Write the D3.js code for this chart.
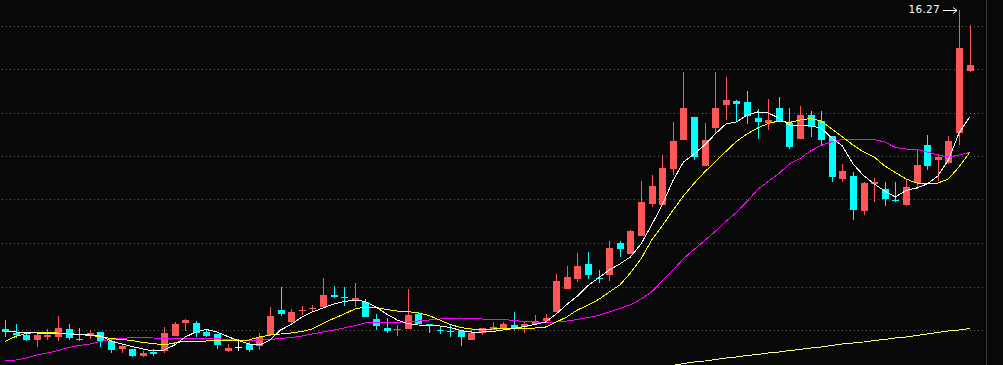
<!DOCTYPE html>
<html><head><meta charset="utf-8">
<script src="https://cdn.jsdelivr.net/npm/d3@7"></script>
<style>html,body{margin:0;padding:0;background:#080808;overflow:hidden}svg{display:block}</style>
</head><body>
<svg id="c" width="1003" height="365"></svg>
<script>
// ---- data (prices) ----
const opens  = [9.89,9.80,9.78,9.69,9.72,9.74,9.89,9.69,9.76,9.83,9.64,9.50,9.49,9.36,9.44,9.46,9.76,10.01,10.01,9.84,9.79,9.47,9.54,9.59,9.54,9.77,10.27,10.04,10.26,10.28,10.34,10.57,10.54,10.48,10.44,10.08,9.92,9.86,9.89,10.19,9.99,9.87,9.86,9.85,9.69,9.80,9.88,9.92,9.97,9.94,10.00,10.05,10.24,10.69,10.89,11.20,10.92,10.96,11.61,11.39,11.74,12.38,12.38,13.10,13.66,14.13,13.15,13.92,14.38,14.45,14.43,14.11,14.02,14.31,14.01,13.70,14.17,14.05,13.74,12.89,12.94,12.24,12.78,12.69,12.46,12.38,12.80,13.57,13.27,13.20,13.80,15.04];
const highs  = [10.07,9.99,9.84,9.84,9.88,10.14,9.99,9.90,9.87,9.83,9.67,9.59,9.49,9.45,9.48,9.93,10.04,10.08,10.05,9.88,9.79,9.60,9.70,9.63,9.80,10.34,10.72,10.29,10.35,10.37,10.90,10.75,10.74,10.80,10.50,10.20,10.12,9.97,10.69,10.22,9.99,9.94,9.97,9.85,9.90,9.90,10.04,10.04,10.22,10.04,10.17,10.19,10.99,11.15,11.41,11.43,11.07,11.65,11.65,11.87,12.85,12.97,13.37,14.03,15.03,14.13,14.01,15.03,14.93,14.47,14.65,14.29,14.49,14.53,14.31,14.34,14.25,14.25,13.74,13.20,13.04,12.82,12.90,12.82,12.82,12.88,13.47,13.77,13.39,13.74,16.27,15.97];
const lows   = [9.73,9.71,9.65,9.54,9.67,9.65,9.67,9.65,9.70,9.54,9.42,9.42,9.34,9.32,9.36,9.42,9.76,9.86,9.72,9.74,9.49,9.44,9.45,9.43,9.47,9.75,10.16,9.97,10.17,10.22,10.34,10.52,10.36,10.34,10.14,9.87,9.82,9.76,9.89,9.99,9.82,9.79,9.72,9.55,9.69,9.77,9.87,9.92,9.87,9.82,10.00,10.05,10.24,10.69,10.84,10.89,10.82,10.86,11.34,11.39,11.74,12.32,12.38,12.97,13.66,13.28,13.15,13.79,14.06,14.03,13.98,13.70,13.87,14.04,13.48,13.70,13.72,13.57,12.82,12.82,12.06,12.18,12.44,12.34,12.44,12.36,12.70,13.06,12.84,13.20,13.57,15.04];
const closes = [9.83,9.76,9.69,9.78,9.77,9.92,9.72,9.68,9.82,9.64,9.46,9.55,9.36,9.41,9.40,9.81,9.99,10.07,9.80,9.77,9.56,9.52,9.54,9.47,9.72,10.15,10.19,10.23,10.28,10.30,10.57,10.54,10.53,10.52,10.14,9.94,9.87,9.88,10.17,9.99,9.95,9.86,9.85,9.72,9.82,9.90,9.94,9.99,9.92,9.99,10.05,10.12,10.85,10.93,11.15,10.98,10.90,11.51,11.48,11.85,12.43,12.75,13.12,13.65,14.30,13.34,13.67,14.31,14.47,14.38,14.14,14.02,14.07,14.04,13.54,14.17,13.93,13.68,12.92,13.05,12.26,12.80,12.82,12.48,12.44,12.73,13.17,13.16,13.32,13.64,15.50,15.16];
const ma5  = [9.85,9.83,9.82,9.81,9.80,9.80,9.79,9.78,9.77,9.75,9.65,9.59,9.54,9.49,9.45,9.47,9.57,9.73,9.83,9.88,9.83,9.74,9.66,9.59,9.57,9.67,9.87,9.98,10.13,10.23,10.31,10.39,10.44,10.47,10.44,10.33,10.19,10.07,10.00,9.97,9.96,9.95,9.92,9.86,9.83,9.83,9.84,9.87,9.90,9.94,9.98,10.03,10.19,10.38,10.55,10.76,10.91,11.07,11.19,11.33,11.59,11.97,12.37,12.85,13.23,13.39,13.57,13.79,13.99,14.03,14.17,14.23,14.21,14.11,13.97,13.96,13.95,13.91,13.71,13.55,13.19,12.96,12.79,12.65,12.53,12.66,12.71,12.79,12.95,13.27,13.81,14.13];
const ma10 = [9.64,9.74,9.80,9.82,9.82,9.81,9.80,9.78,9.76,9.74,9.70,9.68,9.66,9.62,9.60,9.57,9.61,9.65,9.65,9.65,9.66,9.66,9.66,9.67,9.73,9.77,9.79,9.81,9.84,9.89,10.00,10.10,10.19,10.29,10.33,10.32,10.28,10.25,10.24,10.21,10.16,10.07,9.98,9.92,9.89,9.88,9.89,9.90,9.90,9.90,9.91,9.93,10.03,10.13,10.27,10.37,10.48,10.63,10.77,11.01,11.29,11.67,11.95,12.26,12.55,12.80,13.03,13.23,13.44,13.64,13.79,13.91,14.00,14.05,14.02,14.07,14.10,14.05,13.89,13.73,13.57,13.43,13.33,13.15,13.02,12.89,12.81,12.79,12.81,12.89,13.13,13.42];
const ma20 = [9.26,9.27,9.31,9.37,9.41,9.46,9.52,9.56,9.59,9.64,9.68,9.70,9.72,9.72,9.71,9.69,9.70,9.70,9.70,9.70,9.70,9.68,9.67,9.66,9.67,9.68,9.70,9.72,9.75,9.79,9.83,9.87,9.91,9.96,10.01,10.02,10.02,10.02,10.03,10.05,10.07,10.09,10.10,10.11,10.10,10.09,10.09,10.08,10.06,10.04,10.03,10.02,10.03,10.05,10.08,10.12,10.16,10.23,10.30,10.37,10.49,10.63,10.85,11.06,11.30,11.48,11.66,11.84,12.04,12.22,12.44,12.68,12.84,13.00,13.19,13.30,13.45,13.56,13.64,13.68,13.69,13.69,13.68,13.63,13.52,13.49,13.48,13.43,13.37,13.33,13.37,13.42];
const maLong = [null,null,null,null,null,null,null,null,null,null,null,null,null,null,null,null,null,null,null,null,null,null,null,null,null,null,null,null,null,null,null,null,null,null,null,null,null,null,null,null,null,null,null,null,null,null,null,null,null,null,null,null,null,null,null,null,null,null,null,null,null,null,null,
  9.16,9.20,9.23,9.25,9.28,9.31,9.33,9.36,9.38,9.41,9.43,9.46,9.48,9.51,9.53,9.56,9.59,9.61,9.63,9.66,9.68,9.71,9.73,9.76,9.79,9.82,9.85,9.87,9.90];
const gridPrices = [15.95,15.08,14.21,13.35,12.48,11.61,10.74,9.87];
const maxLabel = "16.27";

// ---- drawing ----
const W = 1003, H = 365;
const svg = d3.select("#c");
svg.append("rect").attr("width", W).attr("height", H).attr("fill", "#080808");

const n = opens.length;
const x = d3.scaleLinear().domain([0, n - 1]).range([5, 969.6]);
const y = d3.scaleLinear().domain([9.17, 16.47]).range([365, 0]);

const UP = "#ff5757", DOWN = "#00ffff";

// grid (sparse dots)
svg.append("g").selectAll("line").data(gridPrices).join("line")
  .attr("x1", 2).attr("x2", 986)
  .attr("y1", d => Math.round(y(d)) + 0.5).attr("y2", d => Math.round(y(d)) + 0.5)
  .attr("stroke", "#5e5e5e").attr("stroke-width", 1).attr("stroke-dasharray", "1,3")
  .attr("shape-rendering", "crispEdges");

// right border
svg.append("line").attr("x1", 986.5).attr("x2", 986.5).attr("y1", 0).attr("y2", H)
  .attr("stroke", "#3c3c3c").attr("shape-rendering", "crispEdges");

const idx = d3.range(n);
function col(i) {
  if (closes[i] > opens[i]) return UP;
  if (closes[i] < opens[i]) return DOWN;
  return "#ffffff";
}

// wicks
svg.append("g").selectAll("line").data(idx).join("line")
  .attr("x1", i => Math.round(x(i)) + 0.5).attr("x2", i => Math.round(x(i)) + 0.5)
  .attr("y1", i => Math.round(y(highs[i]))).attr("y2", i => Math.round(y(lows[i])))
  .attr("stroke", col).attr("stroke-width", 1).attr("shape-rendering", "crispEdges");

// bodies
svg.append("g").selectAll("rect").data(idx).join("rect")
  .attr("x", i => Math.round(x(i)) - 3)
  .attr("width", 7)
  .attr("y", i => Math.round(y(Math.max(opens[i], closes[i]))))
  .attr("height", i => Math.max(1, Math.round(Math.abs(y(opens[i]) - y(closes[i])))))
  .attr("fill", col).attr("shape-rendering", "crispEdges");

// moving averages
function drawLine(arr, color) {
  const line = d3.line().defined(d => d != null).x((d, i) => x(i)).y(d => y(d));
  svg.append("path").datum(arr).attr("d", line)
    .attr("fill", "none").attr("stroke", color).attr("stroke-width", 1)
    .attr("shape-rendering", "crispEdges");
}
drawLine(maLong, "#ffff80");
drawLine(ma20, "#ff00ff");
drawLine(ma10, "#ffff00");
drawLine(ma5, "#ffffff");

// max label
const hi = d3.maxIndex(highs);
const tipX = Math.round(x(hi)) - 2, tipY = Math.round(y(highs[hi])) + 0.5;
svg.append("path")
  .attr("d", `M${tipX - 14},${tipY}H${tipX}M${tipX - 4},${tipY - 3}L${tipX},${tipY}L${tipX - 4},${tipY + 3}`)
  .attr("stroke", "#ffffff").attr("fill", "none").attr("stroke-width", 1);
svg.append("text").attr("x", tipX - 17).attr("y", tipY + 2.5)
  .attr("text-anchor", "end").attr("fill", "#ffffff")
  .attr("font-family", "DejaVu Sans, sans-serif").attr("font-size", 10.5)
  .attr("letter-spacing", 0.3)
  .text(maxLabel);
</script>
</body></html>
